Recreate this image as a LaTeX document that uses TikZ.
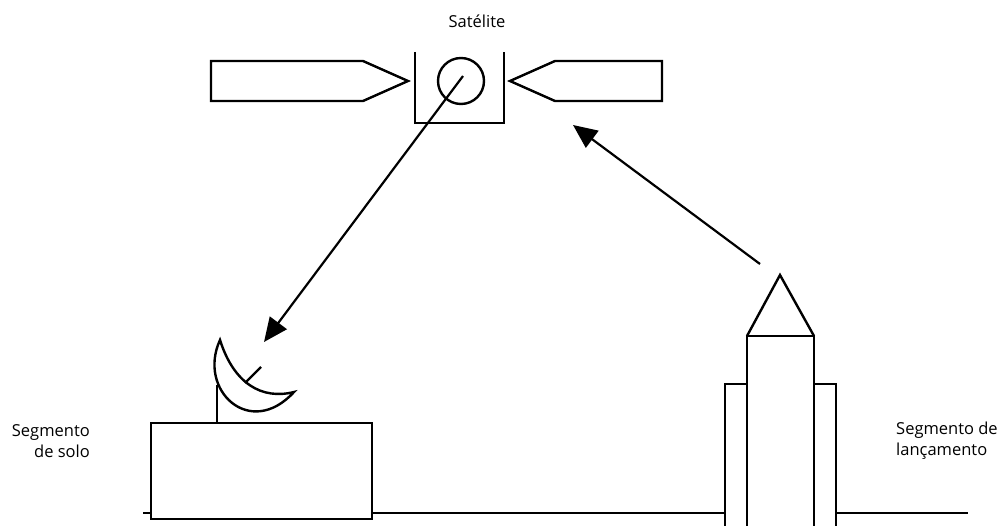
\documentclass[tikz,border=0pt]{standalone}
\usepackage{fontspec}
\setmainfont{Open Sans}
\usetikzlibrary{arrows.meta}
\begin{document}
\begin{tikzpicture}[x=1pt,y=-1pt,
  part/.style={draw=black,line width=2.4pt,line join=miter},
  link/.style={draw=black,line width=2.2pt,-{Triangle[length=24pt,width=21pt]}},
  caption/.style={font=\fontsize{16.5}{21}\selectfont,inner sep=0pt}]
\useasboundingbox (0,0) rectangle (1001,526);

% satellite: body, sensor and two solar panels
\draw[part] (415,52) -- (415,123) -- (504,123) -- (504,52);
\draw[part] (461,81) circle (23);
\draw[part] (211,61) -- (363,61) -- (408,81) -- (363,101) -- (211,101) -- cycle;
\draw[part] (662,61) -- (555,61) -- (510,81) -- (555,101) -- (662,101) -- cycle;
\node[caption,anchor=base] (sat) at (477,28) {Satélite};

% ground line
\draw[part] (143,513) -- (968,513);

% ground station: building and dish
\draw[part,fill=white] (151,423) rectangle (372,519);
\draw[part] (217,385) -- (217,423);
\draw[part,fill=white] (220,340) .. controls (197,390) and (250,440) .. (294,392)
  .. controls (262,400) and (234,384) .. (220,340) -- cycle;
\draw[part] (245,383) -- (261,367);
\node[caption,align=right,anchor=base east] (gnd) at (90,457) {Segmento\\de solo};

% launcher: rocket with boosters
\draw[part,fill=white] (747,336) rectangle (814,530);
\draw[part] (747,336) -- (780,275) -- (814,336);
\draw[part,fill=white] (725,384) rectangle (747,530);
\draw[part,fill=white] (814,384) rectangle (836,530);
\node[caption,align=left,anchor=base west] (lnc) at (896,455) {Segmento de\\lançamento};

% signal paths
\coordinate (satdown) at (463,76);
\coordinate (dishin) at (264,342);
\coordinate (rockup) at (760,264);
\coordinate (satin) at (573,125);
\draw[link] (satdown) -- (dishin);
\draw[link] (rockup) -- (satin);
\end{tikzpicture}
\end{document}
